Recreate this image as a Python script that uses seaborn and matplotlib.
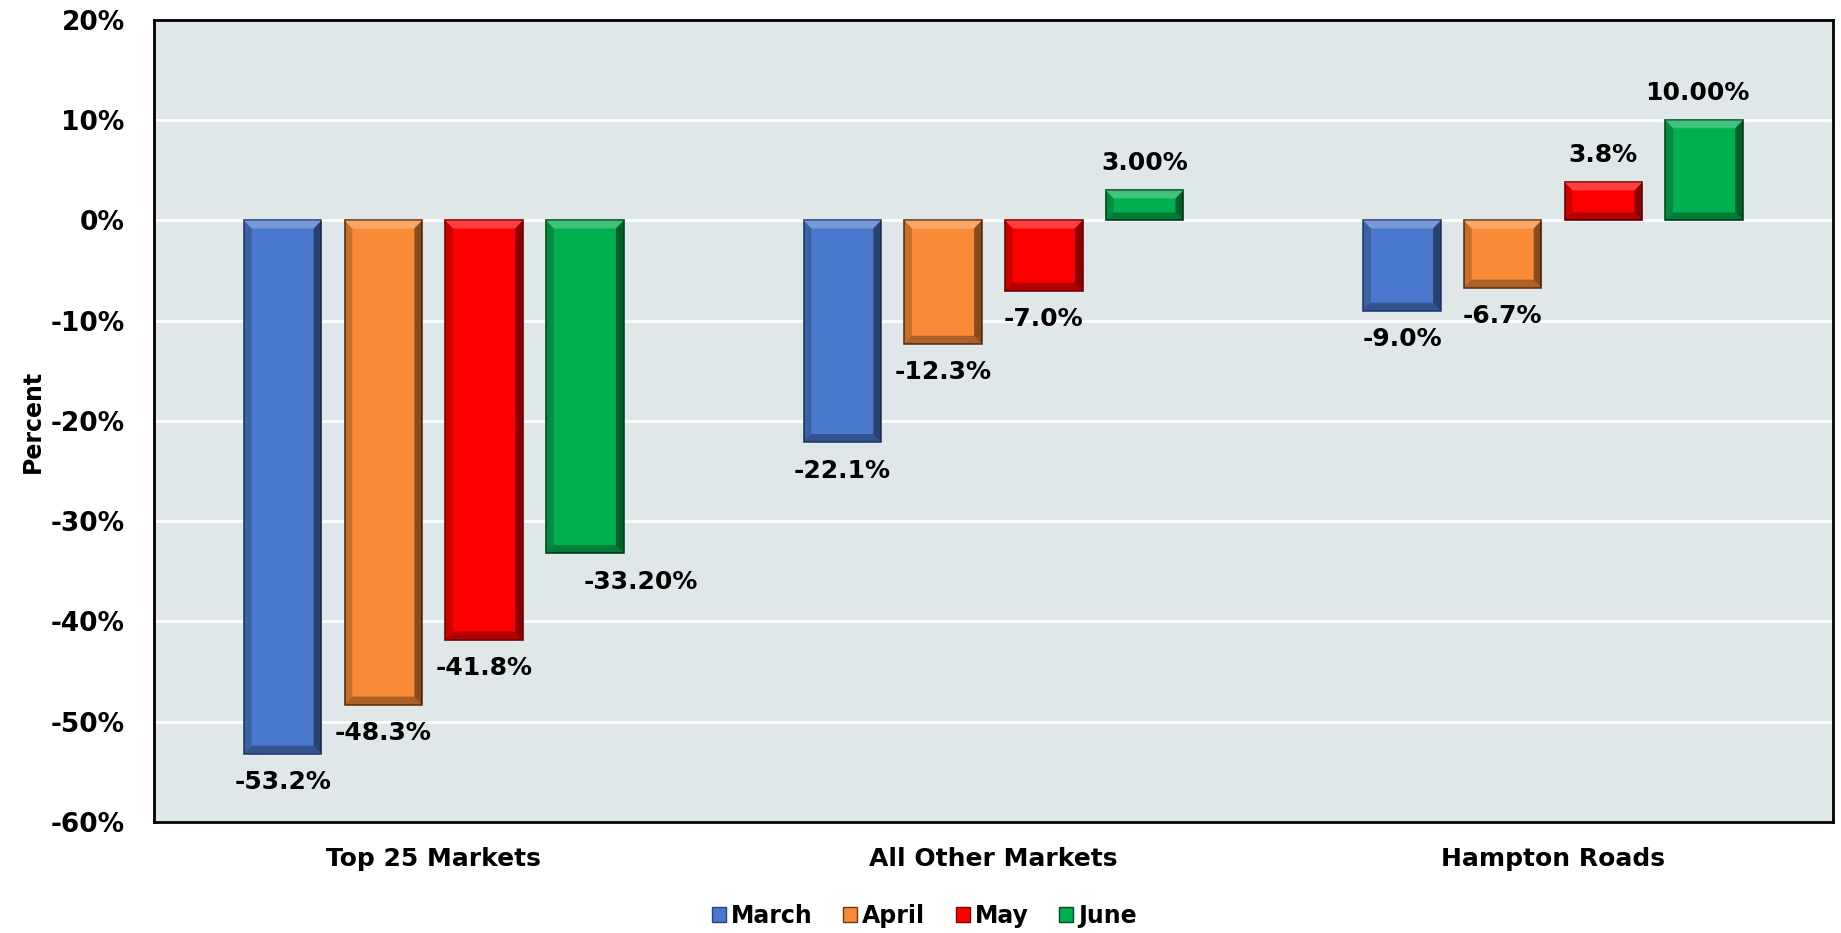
import matplotlib
matplotlib.use("Agg")
import matplotlib.pyplot as plt
import seaborn as sns
import pandas as pd
from matplotlib.patches import Patch, Polygon

categories = ["Top 25 Markets", "All Other Markets", "Hampton Roads"]
months = ["March", "April", "May", "June"]
march = [-53.2, -22.1, -9.0]
april = [-48.3, -12.3, -6.7]
may = [-41.8, -7.0, 3.8]
june = [-33.2, 3.0, 10.0]
label_march = ["-53.2%", "-22.1%", "-9.0%"]
label_april = ["-48.3%", "-12.3%", "-6.7%"]
label_may = ["-41.8%", "-7.0%", "3.8%"]
label_june = ["-33.20%", "3.00%", "10.00%"]
y_ticks = [-60, -50, -40, -30, -20, -10, 0, 10, 20]

colors = ["#4A78CC", "#F88A38", "#FF0000", "#00B050"]
edge_colors = ["#2A4577", "#6B3A14", "#7A0000", "#004D22"]

rows = []
for m, vals in zip(months, [march, april, may, june]):
    for c, v in zip(categories, vals):
        rows.append({"Market": c, "Month": m, "Value": v})
df = pd.DataFrame(rows)
labels = [label_march, label_april, label_may, label_june]

sns.set_theme(style="white")
plt.rcParams["font.family"] = ["DejaVu Sans"]
plt.rcParams["text.color"] = "black"
plt.rcParams["axes.labelcolor"] = "black"
plt.rcParams["xtick.color"] = "black"
plt.rcParams["ytick.color"] = "black"

fig = plt.figure(figsize=(18.41, 9.33), dpi=100)
ax = fig.add_axes([0.0836, 0.119, 0.912, 0.8596])
ax.set_facecolor("#E0E7E9")

sns.barplot(data=df, x="Market", y="Value", hue="Month", order=categories,
            hue_order=months, palette=colors, width=0.72, gap=0.23,
            ax=ax, legend=False, saturation=1, zorder=3)

ax.set_ylim(-60, 20)
ax.set_xlim(-0.5, 2.5)

# bevel shading derived from each drawn bar
bev_y = 0.8  # data units (~8 px)
for i, cont in enumerate(ax.containers):
    for bar in cont:
        bar.set_edgecolor(edge_colors[i])
        bar.set_linewidth(1.2)
        x0 = bar.get_x()
        w = bar.get_width()
        x1 = x0 + w
        h = bar.get_height()
        top, bot = max(0, h), min(0, h)
        bx = w * 0.10
        by = min(bev_y, (top - bot) / 2.2)
        ix0, ix1, it, ib = x0 + bx, x1 - bx, top - by, bot + by
        polys = [
            ([(x0, top), (x1, top), (ix1, it), (ix0, it)], "white", 0.25),
            ([(x0, top), (ix0, it), (ix0, ib), (x0, bot)], "black", 0.20),
            ([(x1, top), (x1, bot), (ix1, ib), (ix1, it)], "black", 0.45),
            ([(x0, bot), (ix0, ib), (ix1, ib), (x1, bot)], "black", 0.30),
        ]
        for pts, col, a in polys:
            ax.add_patch(Polygon(pts, closed=True, facecolor=col, alpha=a,
                                 edgecolor="none", zorder=4))

extra_dx = {(3, 0): 40, (3, 2): -5}
for i, cont in enumerate(ax.containers):
    for j, bar in enumerate(cont):
        h = bar.get_height()
        x = bar.get_x() + bar.get_width() / 2
        dx = extra_dx.get((i, j), 0)
        if h < 0:
            ax.annotate(labels[i][j], (x, h), xytext=(dx, -12), textcoords="offset points",
                        ha="center", va="top", fontsize=18, fontweight="bold", color="black")
        else:
            ax.annotate(labels[i][j], (x, h), xytext=(dx, 11), textcoords="offset points",
                        ha="center", va="bottom", fontsize=18, fontweight="bold", color="black")

ax.set_yticks(y_ticks)
ax.set_yticklabels([f"{t}%" for t in y_ticks], fontsize=19, fontweight="bold", color="black")
ax.tick_params(axis="y", length=0, pad=21)
ax.tick_params(axis="x", length=0, pad=18, labelsize=18, labelcolor="black")
for lab in ax.get_xticklabels():
    lab.set_fontweight("bold")
ax.yaxis.grid(True, color="white", linewidth=2, zorder=0)
ax.set_axisbelow(True)
ax.set_xlabel("")
ax.set_ylabel("Percent", fontsize=17, fontweight="bold", labelpad=4, color="black")
for s in ax.spines.values():
    s.set_color("black")
    s.set_linewidth(2)

handles = [Patch(facecolor=c, edgecolor=e, label=m) for c, e, m in zip(colors, edge_colors, months)]
fig.legend(handles=handles, loc="center", bbox_to_anchor=(0.502, 0.018), ncol=4,
           frameon=False, prop={"weight": "bold", "size": 17}, labelcolor="black",
           handlelength=0.6, handleheight=0.6, handletextpad=0.2, columnspacing=1.3)

fig.savefig("out.png", dpi=100)
